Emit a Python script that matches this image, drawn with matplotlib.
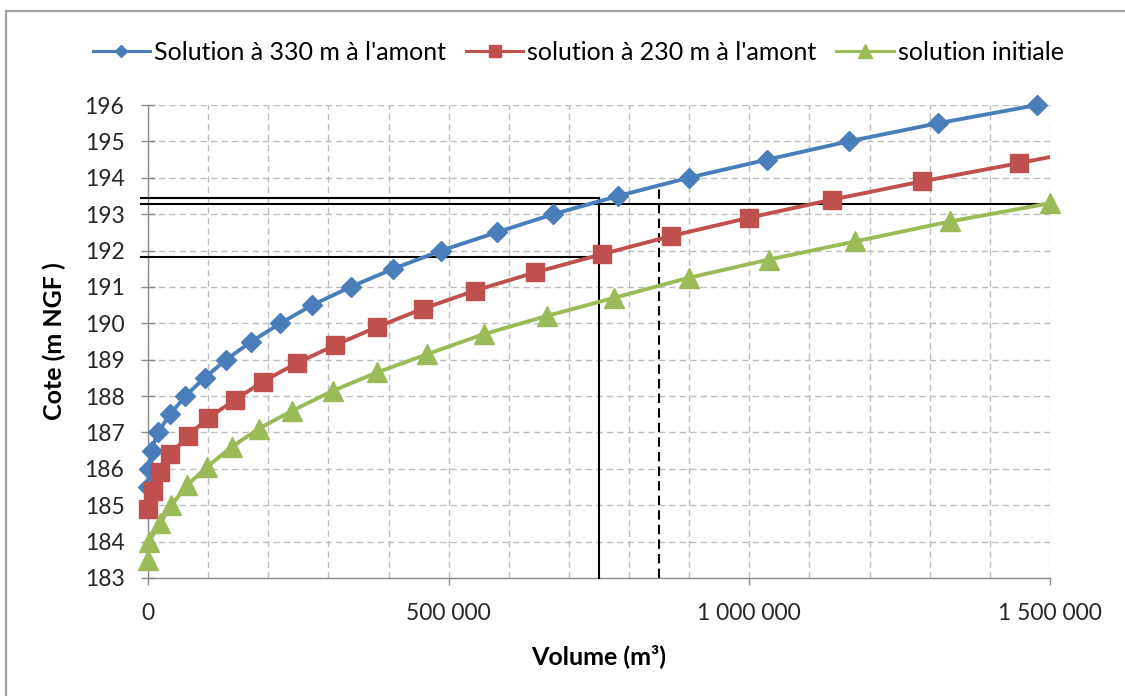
import matplotlib
matplotlib.use("Agg")
import matplotlib.pyplot as plt
from matplotlib.lines import Line2D
from matplotlib.patches import Rectangle
from matplotlib.ticker import FuncFormatter, MultipleLocator

plt.rcParams['font.family'] = ['Lato', 'DejaVu Sans']

# Courbes cote / volume
vol_330 = [0, 1500, 6000, 16000, 37000, 62000, 94000, 130000, 172000, 220000, 273000,
           337000, 408000, 488000, 580000, 674000, 782000, 899000, 1030000, 1165000,
           1314000, 1479000]
cote_330 = [185.5, 186.0, 186.5, 187.0, 187.5, 188.0, 188.5, 189.0, 189.5, 190.0, 190.5,
            191.0, 191.5, 192.0, 192.5, 193.0, 193.5, 194.0, 194.5, 195.0, 195.5, 196.0]

vol_230 = [0, 8000, 20000, 37000, 66000, 100000, 145000, 191000, 247000, 311000, 381000,
           457000, 544000, 644000, 755000, 870000, 999000, 1138000, 1287000, 1448000,
           1601000]
cote_230 = [184.9, 185.4, 185.9, 186.4, 186.9, 187.4, 187.9, 188.4, 188.9, 189.4, 189.9,
            190.4, 190.9, 191.4, 191.9, 192.4, 192.9, 193.4, 193.9, 194.4, 194.9]

vol_init = [0, 1500, 20000, 39000, 65000, 98000, 139000, 184000, 240000, 308000, 381000,
            464000, 558000, 663000, 775000, 899000, 1032000, 1176000, 1334000, 1500000]
cote_init = [183.5, 184.0, 184.5, 185.0, 185.55, 186.05, 186.6, 187.1, 187.6, 188.15,
             188.65, 189.15, 189.7, 190.2, 190.7, 191.25, 191.75, 192.25, 192.8, 193.3]

labels = ["Solution à 330 m à l'amont", "solution à 230 m à l'amont", "solution initiale"]

# Lectures graphiques (traits noirs)
v_lecture = 750000
v_lecture_tirets = 850000
cote_lect_haut = 193.45
cote_lect_init = 193.28
cote_lect_230 = 191.82
cote_tirets_haut = 193.8

x_ticks = [0, 500000, 1000000, 1500000]
y_min, y_max = 183, 196

BLUE = '#4a7ebb'
RED = '#c0504d'
GREEN = '#9bbb59'

fig = plt.figure(figsize=(11.25, 6.96), dpi=100)
ax = fig.add_axes([148 / 1125, 118 / 696, 902 / 1125, 473 / 696])

# cadre de la zone de graphique
fig.patches.append(Rectangle((6 / 1125, -0.2), 1.2, 0.2 + (1 - 11 / 696),
                             transform=fig.transFigure, fill=False,
                             edgecolor='#a0a0a0', linewidth=1.6, zorder=0))

ax.set_xlim(0, 1500000)
ax.set_ylim(y_min, y_max)

# grille en tirets
ax.xaxis.set_major_locator(matplotlib.ticker.FixedLocator(x_ticks))
ax.xaxis.set_minor_locator(MultipleLocator(100000))
ax.yaxis.set_major_locator(MultipleLocator(1))
grid_kw = dict(color='#bdbdbd', linewidth=1.0, linestyle=(0, (4.5, 3)))
ax.grid(True, which='both', axis='x', **grid_kw)
ax.grid(True, which='major', axis='y', **grid_kw)
ax.set_axisbelow(True)

for s in ['top', 'right']:
    ax.spines[s].set_visible(False)
for s in ['left', 'bottom']:
    ax.spines[s].set_color('#8c8c8c')
    ax.spines[s].set_linewidth(1.0)

ax.xaxis.set_major_formatter(FuncFormatter(lambda v, p: f"{int(v):,}".replace(',', ' ')))
ax.tick_params(axis='x', which='major', direction='out', length=5, width=1,
               color='#8c8c8c', pad=13, labelsize=16.5, labelcolor='#262626')
ax.tick_params(axis='x', which='minor', length=0)
ax.tick_params(axis='y', which='major', direction='inout', length=10, width=1,
               color='#8c8c8c', pad=12, labelsize=16.5, labelcolor='#262626')

ax.set_xlabel("Volume (m³)", fontsize=18, fontweight='bold', va='center')
ax.xaxis.set_label_coords(0.5, (578 - 656) / 473)
ax.set_ylabel("Cote (m NGF )", fontsize=18, fontweight='bold', va='center')
ax.yaxis.set_label_coords((54 - 148) / 902, 0.5)

# traits de lecture
lk = dict(color='black', linewidth=1.5, clip_on=False, zorder=4)
ax.plot([-12000, v_lecture], [cote_lect_haut, cote_lect_haut], **lk)
ax.plot([-12000, 1490000], [cote_lect_init, cote_lect_init], **lk)
ax.plot([-12000, v_lecture], [cote_lect_230, cote_lect_230], **lk)
ax.plot([v_lecture, v_lecture], [y_min, cote_lect_haut], **lk)
ax.plot([v_lecture_tirets, v_lecture_tirets], [y_min, cote_tirets_haut],
        color='black', linewidth=1.5, linestyle=(0, (4.5, 2.5)), zorder=4)

series = [
    (vol_330, cote_330, BLUE, 'D', 10.0),
    (vol_230, cote_230, RED, 's', 13.5),
    (vol_init, cote_init, GREEN, '^', 14.5),
]
handles = []
for (vx, vy, col, mk, ms), lab in zip(series, labels):
    ln, = ax.plot(vx, vy, color=col, marker=mk, markersize=ms, linewidth=2.8,
                  markeredgecolor=col, markerfacecolor=col, zorder=5, label=lab)
    right = 1.0 if col == RED else 1.05
    clip = Rectangle((-0.05, -0.05), right + 0.05, 1.1, transform=ax.transAxes)
    ln.set_clip_path(clip)
    handles.append(Line2D([], [], color=col, marker=mk, markersize=ms * 0.65,
                          linewidth=2.2, markeredgecolor=col, markerfacecolor=col))

fig.legend(handles, labels, loc='center', bbox_to_anchor=(578 / 1125, 1 - 52 / 696),
           ncol=3, frameon=False, fontsize=18, handlelength=2.3, handletextpad=0.15,
           columnspacing=0.8)

fig.savefig("out.png", dpi=100)
